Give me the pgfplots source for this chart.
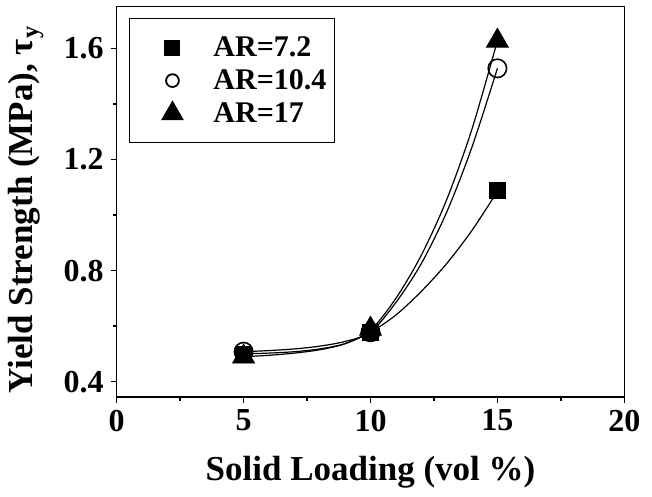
\documentclass[border=0pt]{standalone}
\usepackage{fontspec}
\setmainfont{Liberation Serif}
\usepackage{pgfplots}
\pgfplotsset{compat=1.18}

\begin{document}
\begin{tikzpicture}
\useasboundingbox (-58.35pt,-50.15pt) rectangle (267.65pt,198.35pt);
\begin{axis}[
    scale only axis, width=253.8pt, height=195pt,
    xmin=0, xmax=20, ymin=0.346, ymax=1.75,
    xtick={0,5,10,15,20}, minor x tick num=1,
    ytick={0.4,0.8,1.2,1.6}, minor y tick num=1,
    tick pos=left, tick align=outside,
    major tick length=3pt, minor tick length=2pt,
    axis line style={line width=0.8pt},
    every tick/.style={black, line width=0.7pt},
    /pgf/number format/assume math mode=true,
    yticklabel style={/pgf/number format/fixed, /pgf/number format/precision=1, /pgf/number format/fixed zerofill},
    ticklabel style={font=\bfseries\fontsize{16}{16}\selectfont},
    xlabel={Solid Loading (vol \%)},
    ylabel={Yield Strength (MPa), τ\textsubscript{y}},
    label style={font=\bfseries\fontsize{17.5}{17.5}\selectfont},
    xlabel style={at={(axis description cs:0.5,-0.193)}, anchor=center},
    ylabel style={at={(axis description cs:-0.1785,0.48)}, anchor=center, rotate=0},
    legend style={at={(axis description cs:0.024,0.971)}, anchor=north west,
        draw=black, line width=0.6pt, inner xsep=4pt, inner ysep=6.25pt,
        font=\bfseries\fontsize{15}{15}\selectfont, row sep=0pt,
        nodes={inner xsep=0pt, inner ysep=0pt}},
    legend cell align=left,
    legend image code/.code={%
        \path[draw=none, use as bounding box] (0pt,-8.25pt) rectangle (38pt,8.25pt);
        \draw[#1] plot coordinates {(17.5pt,0pt)};},
]
\addlegendimage{only marks, mark=square*, mark size=3.7pt}
\addlegendentry{AR=7.2}
\addlegendimage{only marks, mark=o, mark size=3.2pt, mark options={line width=0.9pt}}
\addlegendentry{AR=10.4}
\addlegendimage{only marks, mark=triangle*, mark size=6pt}
\addlegendentry{AR=17}

% fitted curves
\addplot[smooth, black, line width=0.6pt, forget plot] coordinates
  {(5,0.500) (6,0.503) (7,0.508) (8,0.518) (9,0.537) (10,0.578) (11,0.640) (12,0.725) (13,0.825) (14,0.945) (15,1.085)};
\addplot[smooth, black, line width=0.6pt, forget plot] coordinates
  {(5,0.508) (6,0.512) (7,0.518) (8,0.528) (9,0.545) (10,0.578) (11,0.685) (12,0.825) (13,1.010) (14,1.245) (15,1.528)};
\addplot[smooth, black, line width=0.6pt, forget plot] coordinates
  {(5,0.490) (6,0.495) (7,0.503) (8,0.515) (9,0.537) (10,0.585) (11,0.700) (12,0.855) (13,1.055) (14,1.310) (15,1.627)};

% measured points
\addplot[only marks, mark=square*, mark size=4pt, black, forget plot] coordinates
  {(5,0.500) (10,0.578) (15,1.090)};
\addplot[only marks, mark=o, mark size=4.6pt, black, mark options={line width=0.8pt}, forget plot] coordinates
  {(5,0.508) (10,0.578) (15,1.528)};
\addplot[only marks, mark=triangle*, mark size=6.3pt, black, forget plot] coordinates
  {(5,0.490) (10,0.590) (15,1.627)};
\end{axis}
\end{tikzpicture}
\end{document}
